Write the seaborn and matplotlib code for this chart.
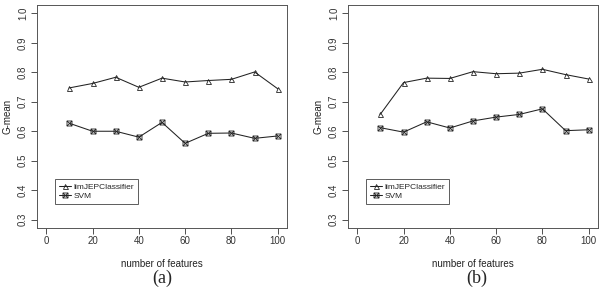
import numpy as np
import pandas as pd
import matplotlib
matplotlib.use("Agg")
import matplotlib.pyplot as plt
import seaborn as sns
from matplotlib.path import Path

# datos
n_features = [10, 20, 30, 40, 50, 60, 70, 80, 90, 100]
lim_a = [0.747, 0.762, 0.783, 0.749, 0.780, 0.767, 0.772, 0.776, 0.801, 0.744]
svm_a = [0.627, 0.600, 0.600, 0.580, 0.630, 0.559, 0.593, 0.594, 0.576, 0.584]
lim_b = [0.658, 0.765, 0.780, 0.779, 0.802, 0.795, 0.797, 0.810, 0.792, 0.777]
svm_b = [0.612, 0.597, 0.632, 0.611, 0.635, 0.648, 0.657, 0.676, 0.602, 0.605]
captions = ["(a)", "(b)"]
metodos = ["limJEPClassifier", "SVM"]

sns.set_style("white")
plt.rcParams["font.family"] = ["Liberation Sans", "DejaVu Sans"]

# cuadrado con x (como pch=7 de R)
boxx = Path([(-1, -1), (1, -1), (1, 1), (-1, 1), (-1, -1),
             (-1, -1), (1, 1), (-1, 1), (1, -1)],
            [Path.MOVETO, Path.LINETO, Path.LINETO, Path.LINETO, Path.CLOSEPOLY,
             Path.MOVETO, Path.LINETO, Path.MOVETO, Path.LINETO])

fig = plt.figure(figsize=(6, 2.9), dpi=100)
ax_pos = [[37 / 600, 1 - 228 / 290, 250 / 600, 223 / 290],
          [348 / 600, 1 - 228 / 290, 250 / 600, 223 / 290]]
cap_x = [162, 477]
series = [(lim_a, svm_a), (lim_b, svm_b)]

for i, (lim, svm) in enumerate(series):
    ax = fig.add_axes(ax_pos[i])
    df = pd.DataFrame({
        "features": n_features * 2,
        "gmean": lim + svm,
        "metodo": [metodos[0]] * 10 + [metodos[1]] * 10,
    })
    sns.lineplot(data=df, x="features", y="gmean", hue="metodo", style="metodo",
                 palette=["#222222", "#222222"], markers={metodos[0]: "^", metodos[1]: boxx},
                 dashes=False, markersize=3.6, markerfacecolor="none",
                 markeredgecolor="#222222", markeredgewidth=0.6, linewidth=0.75,
                 legend=False, ax=ax)
    ax.set_xlim(-4, 104)
    ax.set_ylim(0.272, 1.028)
    ax.set_xticks([0, 20, 40, 60, 80, 100])
    ax.set_yticks([0.3, 0.4, 0.5, 0.6, 0.7, 0.8, 0.9, 1.0])
    ax.set_yticklabels(["0.3", "0.4", "0.5", "0.6", "0.7", "0.8", "0.9", "1.0"],
                       rotation=90, va="center")
    ax.tick_params(axis="both", direction="out", length=4, width=0.6,
                   labelsize=7, colors="#333333", bottom=True, left=True)
    ax.tick_params(axis="x", pad=2)
    ax.tick_params(axis="y", pad=2.5)
    for s in ax.spines.values():
        s.set_color("#555555")
        s.set_linewidth(0.7)
    ax.set_xlabel("number of features", fontsize=7, color="#222222", labelpad=9)
    ax.set_ylabel("G-mean", fontsize=7, color="#222222")
    ax.yaxis.set_label_coords(-24 / 250, 0.5)
    leg = ax.legend(ax.lines[:2], metodos, loc="lower left",
                    bbox_to_anchor=(0.072, 0.108), fontsize=6, frameon=True,
                    fancybox=False, handlelength=1.5, handletextpad=0.3,
                    borderpad=0.45, labelspacing=0.2, borderaxespad=0)
    leg.get_frame().set_edgecolor("#333333")
    leg.get_frame().set_linewidth(0.7)
    fig.text(cap_x[i] / 600, 1 - 278 / 290, captions[i], ha="center", va="center",
             fontsize=13, family=["Liberation Serif", "DejaVu Serif"])

fig.savefig("out.png", dpi=100)
